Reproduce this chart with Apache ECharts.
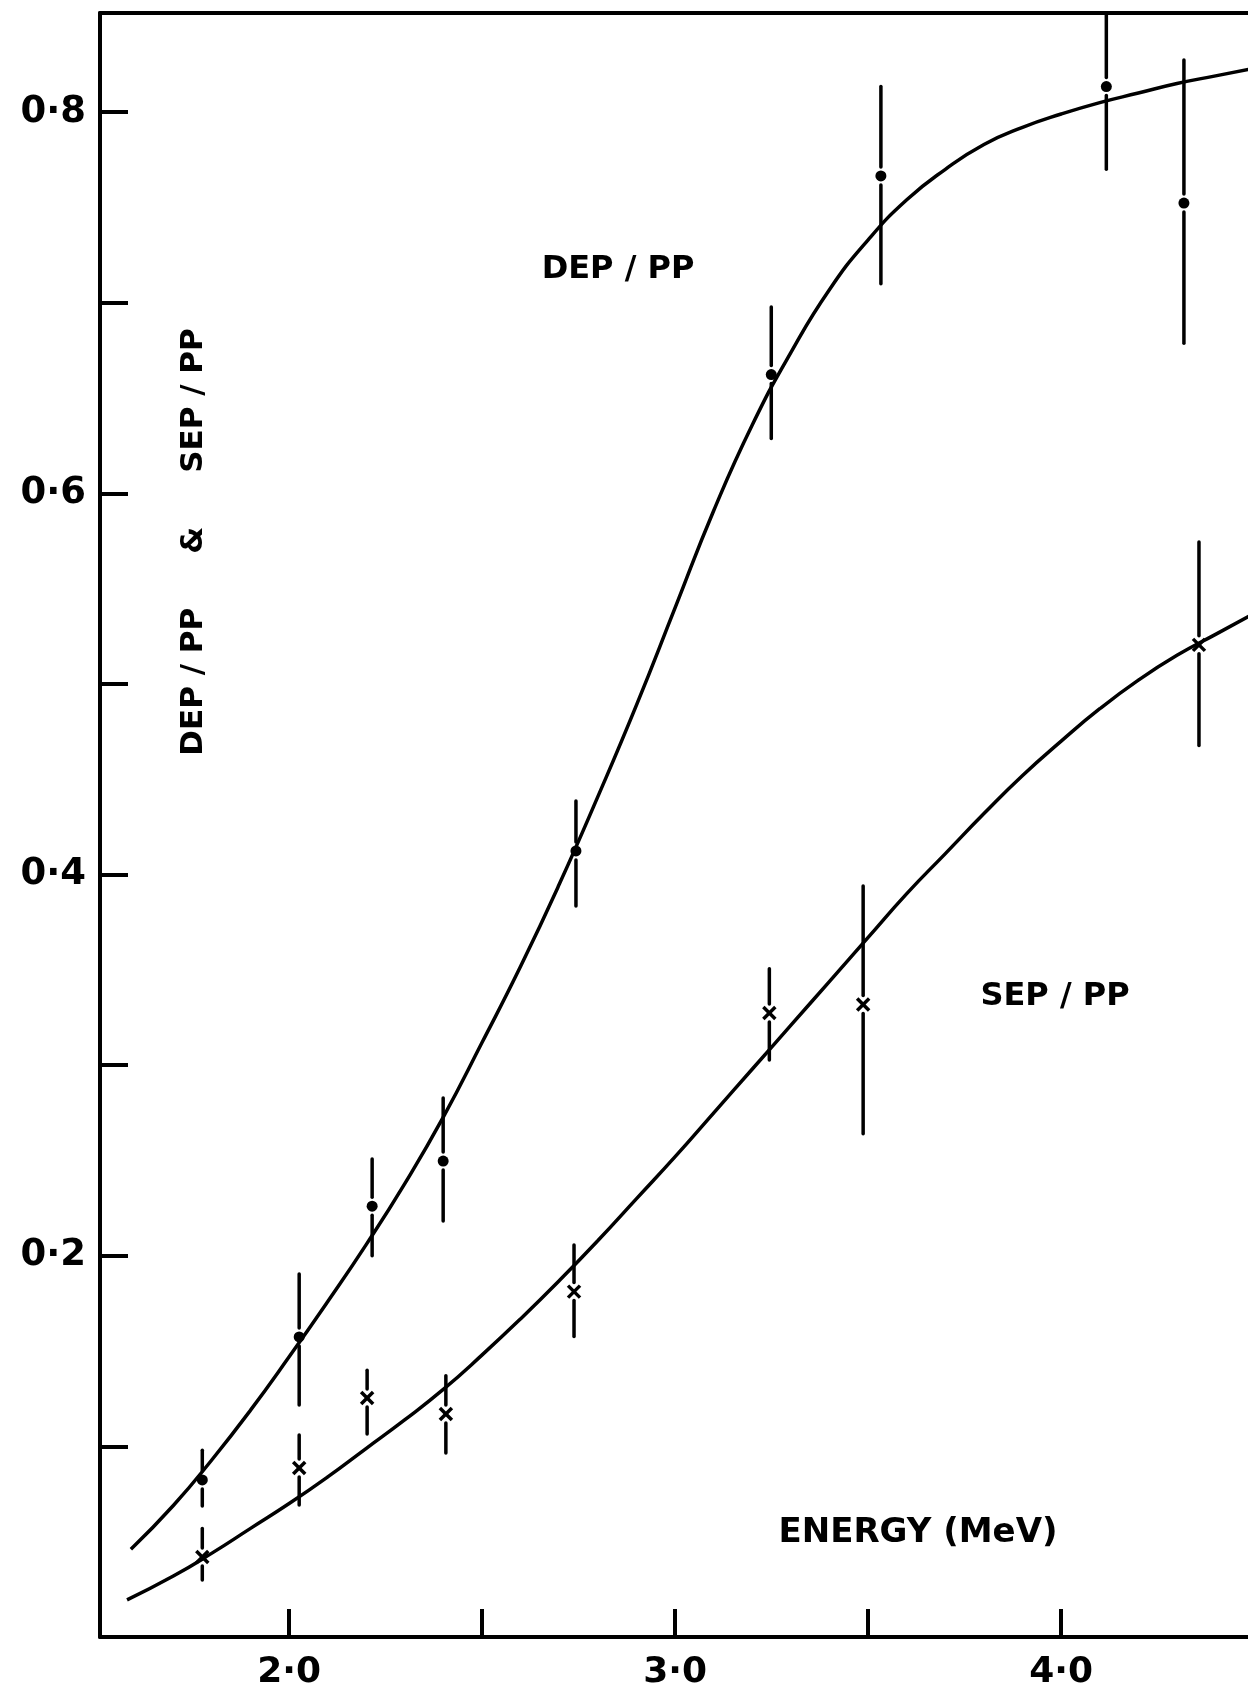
<!DOCTYPE html>
<html lang="en">
<head>
<meta charset="UTF-8">
<title>DEP/PP & SEP/PP vs energy</title>
<script src="https://cdn.jsdelivr.net/npm/echarts@6/dist/echarts.min.js"></script>
<style>
  html, body { margin: 0; padding: 0; background: #fff; }
</style>
</head>
<body>
<div id="main" style="width: 1248px;height: 1686px;"></div>
<script type="text/javascript">
// fitted curves [energy MeV, ratio]
var depCurve = [
  [1.59, 0.046], [1.7, 0.069], [1.8, 0.093], [1.9, 0.119], [2.0, 0.147],
  [2.1, 0.176], [2.2, 0.206], [2.3, 0.238], [2.4, 0.273], [2.5, 0.312],
  [2.6, 0.352], [2.7, 0.395], [2.8, 0.441], [2.9, 0.489], [3.0, 0.540],
  [3.1, 0.591], [3.2, 0.636], [3.3, 0.674], [3.4, 0.707], [3.5, 0.733],
  [3.6, 0.754], [3.7, 0.770], [3.8, 0.783], [3.9, 0.792], [4.0, 0.799],
  [4.1, 0.805], [4.2, 0.810], [4.3, 0.815], [4.4, 0.819], [4.5, 0.823]
];
var sepCurve = [
  [1.58, 0.0195], [1.7, 0.032], [1.8, 0.044], [1.9, 0.057], [2.0, 0.070],
  [2.1, 0.084], [2.2, 0.099], [2.3, 0.114], [2.4, 0.130], [2.5, 0.148],
  [2.6, 0.167], [2.7, 0.187], [2.8, 0.208], [2.9, 0.230], [3.0, 0.252],
  [3.1, 0.275], [3.2, 0.298], [3.3, 0.321], [3.4, 0.344], [3.5, 0.367],
  [3.6, 0.390], [3.7, 0.411], [3.8, 0.432], [3.9, 0.452], [4.0, 0.470],
  [4.1, 0.487], [4.2, 0.502], [4.3, 0.515], [4.4, 0.526], [4.5, 0.537]
];
// measured points [energy, value, low, high]
var depPoints = [
  [1.775, 0.0824, 0.0687, 0.098],
  [2.026, 0.1574, 0.1217, 0.1905],
  [2.215, 0.226, 0.200, 0.2508],
  [2.399, 0.2497, 0.2183, 0.2828],
  [2.743, 0.4124, 0.3835, 0.4386],
  [3.249, 0.6623, 0.6288, 0.6978],
  [3.533, 0.7665, 0.710, 0.8134],
  [4.117, 0.8134, 0.770, 0.860],
  [4.318, 0.7523, 0.6788, 0.8274]
];
var sepPoints = [
  [1.775, 0.042, 0.0299, 0.0569],
  [2.026, 0.0887, 0.0693, 0.106],
  [2.202, 0.1254, 0.1065, 0.140],
  [2.406, 0.117, 0.0965, 0.137],
  [2.738, 0.1812, 0.1576, 0.2057],
  [3.244, 0.3274, 0.3027, 0.3506],
  [3.487, 0.3318, 0.264, 0.394],
  [4.357, 0.5205, 0.4677, 0.5745]
];
// ticks and labelled ticks
var xTickValues = [2.0, 2.5, 3.0, 3.5, 4.0];
var xLabelValues = [2.0, 3.0, 4.0];
var yLabelValues = [0.2, 0.4, 0.6, 0.8];

var FONT = '"DejaVu Sans", sans-serif';

function dotLabel(v) {
  return v.toFixed(1).replace('.', '\u00b7');
}

function errorBarItem(marker) {
  return function (params, api) {
    var xv = api.value(0);
    var p = api.coord([xv, api.value(1)]);
    var lo = api.coord([xv, api.value(2)]);
    var hi = api.coord([xv, api.value(3)]);
    var top = Math.max(hi[1], params.coordSys.y);
    var gap = 9;
    var st = { stroke: '#000', lineWidth: 3.5, lineCap: 'round' };
    var kids = [
      { type: 'line', shape: { x1: p[0], y1: top, x2: p[0], y2: p[1] - gap }, style: st },
      { type: 'line', shape: { x1: p[0], y1: p[1] + gap, x2: p[0], y2: lo[1] }, style: st }
    ];
    if (marker === 'dot') {
      kids.push({ type: 'circle', shape: { cx: p[0], cy: p[1], r: 5.5 }, style: { fill: '#000' } });
    } else {
      var s = 6;
      var cs = { stroke: '#000', lineWidth: 3.5 };
      kids.push({ type: 'line', shape: { x1: p[0] - s, y1: p[1] - s, x2: p[0] + s, y2: p[1] + s }, style: cs });
      kids.push({ type: 'line', shape: { x1: p[0] - s, y1: p[1] + s, x2: p[0] + s, y2: p[1] - s }, style: cs });
    }
    return { type: 'group', children: kids };
  };
}

var myChart = echarts.init(document.getElementById('main'));

myChart.setOption({
  backgroundColor: '#fff',
  animation: false,
  grid: { left: 100, right: 0, top: 13, bottom: 49, containLabel: false, outerBoundsMode: 'none' },
  xAxis: [{
    type: 'value',
    min: 1.51, max: 4.484,
    axisLine: { show: true, lineStyle: { color: '#000', width: 4 } },
    axisTick: {
      show: true, inside: true, length: 28, customValues: xTickValues,
      lineStyle: { color: '#000', width: 4 }
    },
    splitLine: { show: false },
    axisLabel: {
      margin: 18, customValues: xLabelValues,
      color: '#000', fontFamily: FONT, fontWeight: 'bold', fontSize: 36,
      formatter: function (v) { return dotLabel(v); }
    }
  }, {
    type: 'value', position: 'top',
    min: 1.51, max: 4.484,
    axisLine: { show: true, lineStyle: { color: '#000', width: 4 } },
    axisTick: { show: false }, axisLabel: { show: false }, splitLine: { show: false }
  }],
  yAxis: {
    type: 'value',
    min: 0, max: 0.852, interval: 0.1,
    axisLine: { show: true, lineStyle: { color: '#000', width: 4 } },
    axisTick: { show: true, inside: true, length: 28, lineStyle: { color: '#000', width: 4 } },
    splitLine: { show: false },
    axisLabel: {
      margin: 14,
      color: '#000', fontFamily: FONT, fontWeight: 'bold', fontSize: 37,
      formatter: function (v) {
        for (var i = 0; i < yLabelValues.length; i++) {
          if (Math.abs(v - yLabelValues[i]) < 1e-6) return dotLabel(v);
        }
        return '';
      }
    }
  },
  graphic: [
    {
      type: 'text', x: 194, y: 542, rotation: Math.PI / 2,
      style: {
        text: 'DEP / PP     &     SEP / PP',
        textAlign: 'center', textVerticalAlign: 'middle',
        font: 'bold 31px ' + FONT, fill: '#000'
      }
    },
    {
      type: 'text', x: 618, y: 270,
      style: { text: 'DEP / PP', textAlign: 'center', textVerticalAlign: 'middle', font: 'bold 32px ' + FONT, fill: '#000' }
    },
    {
      type: 'text', x: 1055, y: 997,
      style: { text: 'SEP / PP', textAlign: 'center', textVerticalAlign: 'middle', font: 'bold 32px ' + FONT, fill: '#000' }
    },
    {
      type: 'text', x: 918, y: 1533,
      style: { text: 'ENERGY (MeV)', textAlign: 'center', textVerticalAlign: 'middle', font: 'bold 34px ' + FONT, fill: '#000' }
    }
  ],
  series: [
    {
      name: 'DEP/PP fit', type: 'line', data: depCurve, smooth: true,
      showSymbol: false, clip: true,
      lineStyle: { color: '#000', width: 3.5 }
    },
    {
      name: 'SEP/PP fit', type: 'line', data: sepCurve, smooth: true,
      showSymbol: false, clip: true,
      lineStyle: { color: '#000', width: 3.5 }
    },
    {
      name: 'DEP/PP', type: 'custom', data: depPoints,
      encode: { x: 0, y: [1, 2, 3] },
      renderItem: errorBarItem('dot')
    },
    {
      name: 'SEP/PP', type: 'custom', data: sepPoints,
      encode: { x: 0, y: [1, 2, 3] },
      renderItem: errorBarItem('cross')
    }
  ]
});
</script>
</body>
</html>
